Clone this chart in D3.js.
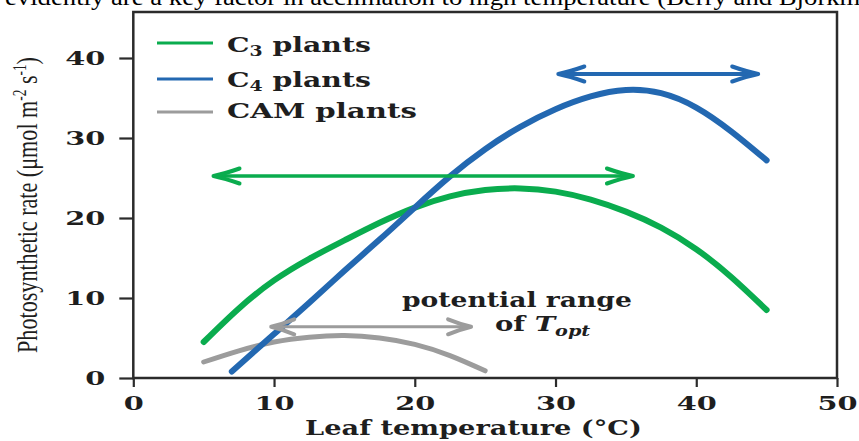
<!DOCTYPE html>
<html>
<head>
<meta charset="utf-8">
<script src="https://cdn.jsdelivr.net/npm/d3@7"></script>
<style>
  html, body { margin: 0; padding: 0; background: #fff; }
  svg { display: block; }
</style>
</head>
<body>
<svg id="chart" width="859" height="441"></svg>
<script>
// Photosynthetic rate (µmol m-2 s-1) against leaf temperature (°C)
const tempC3 = [5, 7.5, 10, 12.5, 15, 17.5, 20, 22.5, 25, 27.5, 30, 32.5, 35, 37.5, 40, 42.5, 45];
const rateC3 = [4.5, 8.7, 12.2, 14.9, 17.2, 19.4, 21.3, 22.7, 23.5, 23.7, 23.3, 22.3, 20.8, 18.8, 16.1, 12.6, 8.5];

const tempC4 = [7, 10, 12.5, 15, 17.5, 20, 22.5, 25, 27.5, 30, 32.5, 35, 37.5, 40, 42.5, 45];
const rateC4 = [0.8, 5.5, 9.4, 13.4, 17.3, 21.3, 25.2, 28.6, 31.4, 33.6, 35.2, 36.0, 35.6, 33.8, 30.8, 27.2];

const tempCAM = [5, 7.5, 10, 12.5, 15, 17.5, 20, 22.5, 25];
const rateCAM = [2.0, 3.4, 4.5, 5.1, 5.3, 5.0, 4.2, 2.8, 0.9];

// Potential range of T_opt for each pathway (C3, C4, CAM)
const rangeStart = [5.7, 30.2, 9.8];
const rangeEnd   = [35.5, 44.4, 24.0];
const rangeLevel = [25.25, 38.0, 6.4];

const xTicks = [0, 10, 20, 30, 40, 50];
const yTicks = [0, 10, 20, 30, 40];

const legendPrefix = ["C", "C", "CAM"];
const legendSub    = ["3", "4", ""];
const legendSuffix = [" plants", " plants", " plants"];

const colors = ["#0aac4e", "#2368b1", "#9c9c9c"];
const ink = "#1e1e1e";
const serifWide = "'DejaVu Serif', serif";

const svg = d3.select("#chart");

const x = d3.scaleLinear().domain([0, 50]).range([133.3, 837]);
const y = d3.scaleLinear().domain([0, 45.75]).range([378, 12]);

// Places a text element at (px, py) and stretches it horizontally to the given width
function stretchedText(parent, px, py, width, anchor, rotate) {
  const g = parent.append("g")
    .attr("transform", `translate(${px},${py})` + (rotate ? ` rotate(${rotate})` : ""));
  const t = g.append("text").attr("x", 0).attr("y", 0).attr("text-anchor", anchor || "start");
  return { text: t, fit: () => {
    const w = t.node().getBBox().width;
    t.attr("transform", `scale(${width / w},1)`);
  }};
}

// Running text from the surrounding page, cut off at the top edge
{
  const g = svg.append("g").attr("transform", "translate(5,4.5)");
  const t = g.append("text")
    .attr("font-family", "'Liberation Serif', serif")
    .attr("font-size", 24)
    .attr("fill", "#000")
    .text("evidently are a key factor in acclimation to high temperature (Berry and Björkman");
  const full = t.text();
  const upto = full.indexOf("Björkm") + "Björkm".length;
  const len = t.node().getSubStringLength(0, upto);
  t.attr("transform", `scale(${856 / len},1)`);
}

// Axes
const gx = svg.append("g")
  .attr("transform", `translate(0,${y(0)})`)
  .call(d3.axisBottom(x).tickValues(xTicks).tickSize(9).tickSizeOuter(0));
gx.select(".domain").remove();
gx.selectAll(".tick line").attr("stroke", "#2b2b2b").attr("stroke-width", 2.2);
gx.selectAll(".tick text")
  .attr("y", null).attr("dy", null)
  .attr("transform", "translate(0,32) scale(1.6,1)")
  .attr("font-family", serifWide).attr("font-weight", "bold").attr("font-size", 18)
  .attr("fill", ink);

const gy = svg.append("g")
  .attr("transform", `translate(${x(0)},0)`)
  .call(d3.axisLeft(y).tickValues(yTicks).tickSize(14).tickSizeOuter(0));
gy.select(".domain").remove();
gy.selectAll(".tick line").attr("stroke", "#2b2b2b").attr("stroke-width", 2.2);
gy.selectAll(".tick text")
  .attr("x", null).attr("dy", "0.36em")
  .attr("text-anchor", "end")
  .attr("transform", "translate(-28,0) scale(1.6,1)")
  .attr("font-family", serifWide).attr("font-weight", "bold").attr("font-size", 18)
  .attr("fill", ink);

// Plot frame
svg.append("rect")
  .attr("x", x(0)).attr("y", y(45.75))
  .attr("width", x(50) - x(0)).attr("height", y(0) - y(45.75))
  .attr("fill", "none").attr("stroke", "#2b2b2b").attr("stroke-width", 2.5);

// Curves
const line = d3.line().x(d => x(d[0])).y(d => y(d[1])).curve(d3.curveNatural);
const curves = [
  { t: tempC3, r: rateC3, c: colors[0], w: 6 },
  { t: tempCAM, r: rateCAM, c: colors[2], w: 5 },
  { t: tempC4, r: rateC4, c: colors[1], w: 6 }
];
curves.forEach(s => {
  svg.append("path")
    .datum(d3.zip(s.t, s.r))
    .attr("d", line)
    .attr("fill", "none")
    .attr("stroke", s.c)
    .attr("stroke-width", s.w)
    .attr("stroke-linecap", "round")
    .attr("stroke-linejoin", "round");
});

// Double-headed arrows for the T_opt ranges
const headLen = [26, 26, 23];
const shaftW = [3.5, 4, 3];
rangeStart.forEach((s, i) => {
  const x0 = x(s), x1 = x(rangeEnd[i]), yy = y(rangeLevel[i]);
  const g = svg.append("g").attr("stroke", colors[i]).attr("fill", "none")
    .attr("stroke-linecap", "round").attr("stroke-linejoin", "round");
  g.append("line").attr("x1", x0 + 2).attr("x2", x1 - 2).attr("y1", yy).attr("y2", yy)
    .attr("stroke-width", shaftW[i]);
  const h = headLen[i];
  g.append("path")
    .attr("d", `M${x0 + h},${yy - 7.5} Q${x0 + h * 0.45},${yy - 2.5} ${x0},${yy} Q${x0 + h * 0.45},${yy + 2.5} ${x0 + h},${yy + 7.5}`)
    .attr("stroke-width", 4);
  g.append("path")
    .attr("d", `M${x1 - h},${yy - 7.5} Q${x1 - h * 0.45},${yy - 2.5} ${x1},${yy} Q${x1 - h * 0.45},${yy + 2.5} ${x1 - h},${yy + 7.5}`)
    .attr("stroke-width", 4);
});

// Legend
const legendLineY = [43, 79, 112];
const legendBase = [52, 87, 117.5];
const legendWidth = [144, 144, 190];
legendPrefix.forEach((p, i) => {
  svg.append("line")
    .attr("x1", 157).attr("x2", 213)
    .attr("y1", legendLineY[i]).attr("y2", legendLineY[i])
    .attr("stroke", colors[i]).attr("stroke-width", 3);
  const lab = stretchedText(svg, 227, legendBase[i], legendWidth[i], "start");
  lab.text.attr("font-family", serifWide).attr("font-weight", "bold")
    .attr("font-size", 21).attr("fill", ink);
  lab.text.append("tspan").text(p);
  if (legendSub[i]) {
    lab.text.append("tspan").attr("font-size", 14).attr("dy", 4).text(legendSub[i]);
    lab.text.append("tspan").attr("dy", -4).text(legendSuffix[i]);
  } else {
    lab.text.append("tspan").text(legendSuffix[i]);
  }
  lab.fit();
});

// Annotation
{
  const a = stretchedText(svg, 402, 306.5, 230, "start");
  a.text.attr("font-family", serifWide).attr("font-weight", "bold")
    .attr("font-size", 20).attr("fill", ink).text("potential range");
  a.fit();
  const b = stretchedText(svg, 495, 330.5, 96, "start");
  b.text.attr("font-family", serifWide).attr("font-weight", "bold")
    .attr("font-size", 20).attr("fill", ink);
  b.text.append("tspan").text("of ");
  b.text.append("tspan").attr("font-style", "italic").text("T");
  b.text.append("tspan").attr("font-style", "italic").attr("font-size", 14).attr("dy", 5).text("opt");
  b.fit();
}

// Axis titles
{
  const xt = stretchedText(svg, 473.5, 435, 337, "middle");
  xt.text.attr("font-family", serifWide).attr("font-weight", "bold")
    .attr("font-size", 20).attr("fill", ink).text("Leaf temperature (°C)");
  xt.fit();

  const yt = stretchedText(svg, 37, 205, 296, "middle", -90);
  yt.text.attr("font-family", "'Liberation Serif', serif")
    .attr("font-size", 30).attr("fill", ink);
  yt.text.append("tspan").text("Photosynthetic rate (μmol m");
  yt.text.append("tspan").attr("font-size", 18).attr("dy", -11).text("-2");
  yt.text.append("tspan").attr("dy", 11).text(" s");
  yt.text.append("tspan").attr("font-size", 18).attr("dy", -11).text("-1");
  yt.text.append("tspan").attr("dy", 11).text(")");
  yt.fit();
}
</script>
</body>
</html>
